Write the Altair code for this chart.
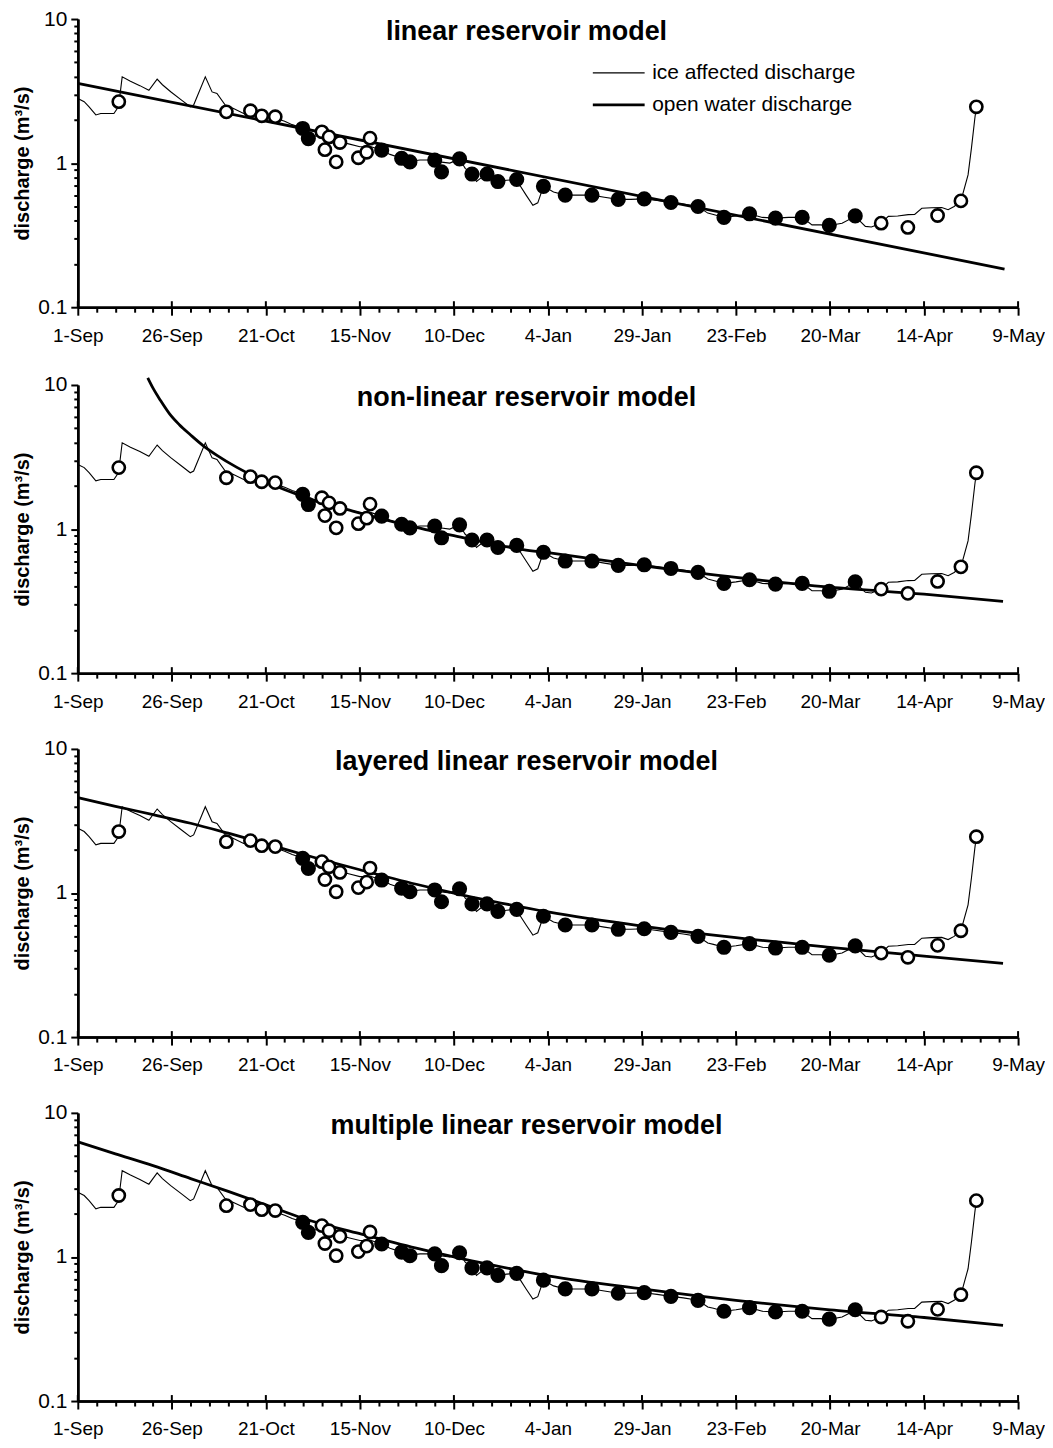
import altair as alt
import pandas as pd

# ---------------- data ----------------
X_LABELS = ["1-Sep", "26-Sep", "21-Oct", "15-Nov", "10-Dec", "4-Jan",
            "29-Jan", "23-Feb", "20-Mar", "14-Apr", "9-May"]
MAJOR_X = list(range(0, 251, 25))
MINOR_X = [d for d in range(0, 251, 5) if d % 25]
MAJOR_Y = [0.1, 1, 10]
MINOR_Y = [0.2, 0.3, 0.4, 0.5, 0.6, 0.7, 0.8, 0.9, 2, 3, 4, 5, 6, 7, 8, 9]

TITLES = ["linear reservoir model", "non-linear reservoir model",
          "layered linear reservoir model", "multiple linear reservoir model"]
SERIES = ["ice affected discharge", "open water discharge"]

# ice affected discharge (days since 1-Sep, m3/s)
ICE_DAY = [0, 1.7, 3.0, 4.8, 6.1, 9.6, 10.5, 11.0, 11.8, 14.0, 16.5, 18.9, 21.1, 22.5,
           24.7, 27.5, 29.9, 30.8, 33.9, 35.7, 37.0, 39.2, 41.4, 44.1, 47.2, 49.5,
           52.5, 55.0, 57.0, 59.8, 61.3, 63.5, 66.0, 69.0, 72.0, 75.0, 78.0, 80.8,
           83.0, 86.1, 88.3, 91.0, 94.9, 96.2, 98.9, 101.5, 103.0, 104.8, 106.0,
           107.5, 108.8, 110.0, 111.7, 114.0, 116.7, 117.4, 119.2, 121.0, 122.3,
           123.8, 126.5, 129.6, 133.0, 136.7, 140.0, 143.7, 147.0, 150.6, 154.0,
           157.7, 161.0, 164.9, 167.5, 169.0, 171.8, 175.0, 178.6, 182.0, 185.5,
           189.0, 192.6, 195.2, 197.5, 199.8, 203.2, 206.7, 209.4, 211.0, 213.6,
           215.5, 218.0, 220.8, 222.5, 224.4, 227.0, 229.7, 231.4, 233.0, 234.8,
           236.7, 237.6, 238.5, 238.9]
ICE_Q = [2.81, 2.67, 2.46, 2.16, 2.21, 2.21, 2.39, 2.67, 3.97, 3.70, 3.45, 3.20, 3.83, 3.50,
         3.13, 2.75, 2.46, 2.53, 3.97, 3.12, 3.04, 2.53, 2.39, 2.21, 2.16, 2.10,
         2.05, 1.95, 1.85, 1.75, 1.50, 1.55, 1.50, 1.42, 1.36, 1.30, 1.30, 1.23,
         1.15, 1.08, 1.03, 1.05, 1.05, 1.02, 1.00, 1.07, 0.92, 0.84, 0.745,
         0.80, 0.84, 0.80, 0.745, 0.76, 0.77, 0.71, 0.60, 0.51, 0.53,
         0.69, 0.63, 0.60, 0.60, 0.60, 0.58, 0.56, 0.56, 0.565, 0.55,
         0.533, 0.52, 0.50, 0.45, 0.44, 0.42, 0.43, 0.445, 0.42, 0.415,
         0.42, 0.42, 0.373, 0.373, 0.369, 0.383, 0.427, 0.364, 0.36, 0.383,
         0.427, 0.43, 0.439, 0.44, 0.486, 0.49, 0.492, 0.475, 0.50, 0.547,
         0.828, 1.27, 2.04, 2.46]

OPEN_DAY = [10.9, 39.5, 45.9, 48.9, 52.5, 64.9, 66.8, 65.7, 69.7, 68.7, 74.6, 76.8, 77.7,
            213.6, 220.7, 228.6, 234.8, 238.9]
OPEN_Q = [2.67, 2.27, 2.31, 2.13, 2.10, 1.65, 1.52, 1.24, 1.39, 1.02, 1.09, 1.19, 1.49,
          0.383, 0.358, 0.433, 0.547, 2.46]

FILLED_DAY = [59.8, 61.3, 80.8, 86.1, 88.3, 94.9, 96.7, 101.5, 104.8, 108.8, 111.7, 116.7,
              123.8, 129.6, 136.7, 143.7, 150.6, 157.7, 164.9, 171.8, 178.6, 185.5,
              192.6, 199.8, 206.7]
FILLED_Q = [1.74, 1.48, 1.23, 1.08, 1.02, 1.05, 0.87, 1.07, 0.84, 0.84, 0.745, 0.77,
            0.69, 0.60, 0.60, 0.56, 0.565, 0.533, 0.50, 0.42, 0.445, 0.415,
            0.42, 0.37, 0.43]

# open water discharge, one curve per model
MODEL_DAY = [
    [0, 246.4],
    [18.6, 20.0, 22.0, 24.4, 27.0, 30.0, 33.3, 37.0, 42.3, 51.2, 60.2, 73.6, 87.1, 100.0,
     118.4, 125, 150, 175, 200, 225, 246],
    [0, 10, 20, 30, 40, 50, 60, 75, 90, 100, 110, 125, 150, 175, 200, 225, 246],
    [0, 10, 20, 30, 40, 50, 60, 75, 90, 100, 110, 125, 150, 175, 200, 225, 246],
]
MODEL_Q = [
    [3.57, 0.184],
    [11.2, 9.5, 7.8, 6.3, 5.3, 4.5, 3.8, 3.25, 2.68, 2.06, 1.67, 1.32, 1.07, 0.90,
     0.72, 0.685, 0.558, 0.462, 0.395, 0.353, 0.315],
    [4.6, 4.0, 3.5, 3.05, 2.6, 2.2, 1.85, 1.45, 1.15, 1.0, 0.88, 0.74, 0.59, 0.49,
     0.42, 0.365, 0.325],
    [6.3, 5.2, 4.3, 3.5, 2.85, 2.3, 1.85, 1.45, 1.15, 1.0, 0.88, 0.74, 0.60, 0.50,
     0.43, 0.38, 0.335],
]

# ---------------- chart ----------------
FONT = "Liberation Sans"
W, H = 943, 289
label_expr = "[" + ",".join("'%s'" % s for s in X_LABELS) + "][round(datum.value/25)]"

xs = alt.Scale(domain=[0, 250], nice=False, zero=False)
ys = alt.Scale(type="log", domain=[0.1, 10], nice=False)
sw = alt.Scale(domain=SERIES, range=[1.1, 2.8])

common_axis = dict(domainColor="black", domainWidth=2.5, tickColor="black", tickWidth=2,
                   grid=False, labelFont=FONT, labelColor="black", labelFontSize=19)


def panel(i):
    ice = pd.DataFrame({"day": ICE_DAY, "q": ICE_Q, "series": SERIES[0]})
    mod = pd.DataFrame({"day": MODEL_DAY[i], "q": MODEL_Q[i], "series": SERIES[1]})
    opn = pd.DataFrame({"day": OPEN_DAY, "q": OPEN_Q})
    fil = pd.DataFrame({"day": FILLED_DAY, "q": FILLED_Q})
    maj = pd.DataFrame({"day": MAJOR_X})
    ttl = pd.DataFrame({"t": [TITLES[i]]})

    x_major = alt.Axis(values=MAJOR_X, labelExpr=label_expr, tickSize=8, labelPadding=11,
                       orient="bottom", title=None, labelFlush=False, labelOverlap=False,
                       **common_axis)
    y_axis_style = dict(common_axis)
    y_axis_style["labelFontSize"] = 21
    y_major = alt.Axis(values=MAJOR_Y, labelExpr="'' + datum.value", tickSize=7,
                       labelPadding=4, orient="left", title="discharge (m³/s)",
                       titleFont=FONT, titleFontSize=20, titleFontWeight="bold",
                       titleColor="black", titlePadding=5, **y_axis_style)
    x_minor = alt.Axis(values=MINOR_X, labels=False, tickSize=5, orient="bottom",
                       title=None, **common_axis)
    y_minor = alt.Axis(values=MINOR_Y, labels=False, tickSize=4, orient="left",
                       title=None, **common_axis)

    legend = None
    if i == 0:
        legend = alt.Legend(title=None, orient="none", legendX=515, legendY=38,
                            symbolType="stroke", symbolSize=2700, symbolStrokeColor="black",
                            labelFont=FONT, labelFontSize=21, labelColor="black",
                            labelOffset=6, labelLimit=0, clipHeight=32, rowPadding=0)

    ice_line = alt.Chart(ice).mark_line(color="black").encode(
        x=alt.X("day:Q", scale=xs, axis=x_major),
        y=alt.Y("q:Q", scale=ys, axis=y_major),
        strokeWidth=alt.StrokeWidth("series:N", scale=sw, legend=legend),
    )
    mod_line = alt.Chart(mod).mark_line(color="black", interpolate="monotone").encode(
        x=alt.X("day:Q", scale=xs, axis=None),
        y=alt.Y("q:Q", scale=ys, axis=None),
        strokeWidth=alt.StrokeWidth("series:N", scale=sw, legend=legend),
    )
    up_ticks = alt.Chart(maj).mark_rule(color="black", strokeWidth=2).encode(
        x=alt.X("day:Q", scale=xs, axis=None),
        y=alt.value(H - 6), y2=alt.value(H),
    )
    open_pts = alt.Chart(opn).mark_point(shape="circle", filled=True, fill="white",
                                         stroke="black", strokeWidth=2.6, size=150,
                                         opacity=1).encode(
        x=alt.X("day:Q", scale=xs, axis=x_minor),
        y=alt.Y("q:Q", scale=ys, axis=y_minor),
    )
    filled_pts = alt.Chart(fil).mark_circle(color="black", size=230, opacity=1).encode(
        x=alt.X("day:Q", scale=xs, axis=None),
        y=alt.Y("q:Q", scale=ys, axis=None),
    )
    title_txt = alt.Chart(ttl).mark_text(font=FONT, fontSize=27, fontWeight="bold",
                                          color="black", align="center",
                                          baseline="middle").encode(
        text="t:N", x=alt.value(450), y=alt.value(13),
    )
    return alt.layer(ice_line, mod_line, up_ticks, filled_pts, open_pts,
                     title_txt).resolve_axis(
        x="independent", y="independent"
    ).properties(width=W, height=H)


chart = alt.vconcat(*[panel(i) for i in range(4)], spacing=27).resolve_scale(
    strokeWidth="independent"
).resolve_legend(strokeWidth="independent").properties(
    padding={"left": 4, "top": -2, "right": 0, "bottom": 0},
    background="white",
).configure_view(stroke=None)

chart.save("out.html", embed_options={"renderer": "svg", "actions": False})
